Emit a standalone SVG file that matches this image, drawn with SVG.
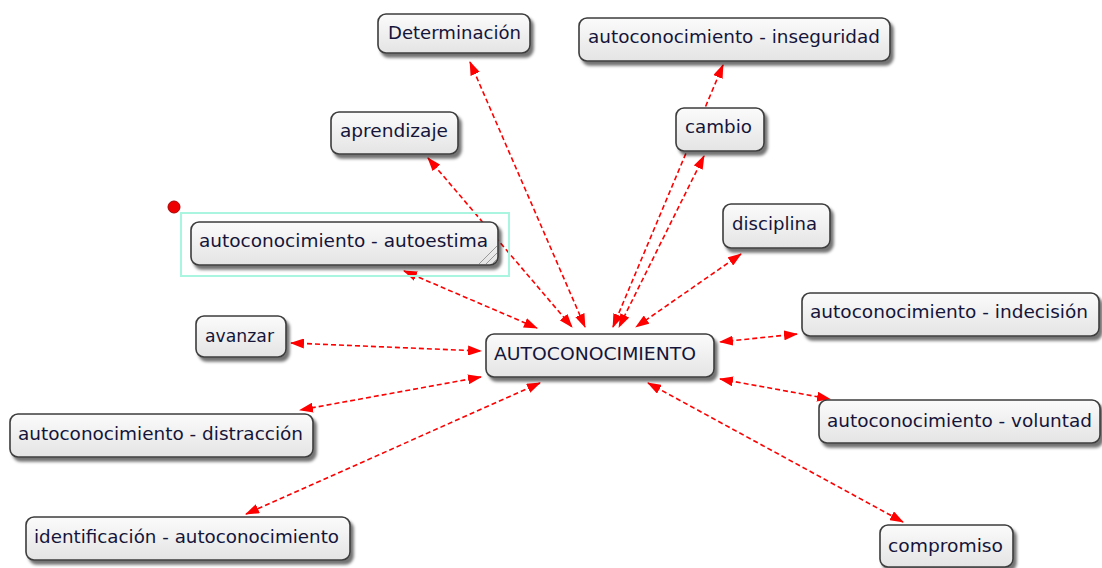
<svg xmlns="http://www.w3.org/2000/svg" width="1102" height="568" viewBox="0 0 1102 568">
<defs>
<linearGradient id="g" x1="0" y1="0" x2="0" y2="1">
<stop offset="0" stop-color="#fbfbfb"/>
<stop offset="1" stop-color="#e4e4e4"/>
</linearGradient>
<filter id="sh" x="-10%" y="-20%" width="130%" height="160%">
<feDropShadow dx="3" dy="4" stdDeviation="1.8" flood-color="#000" flood-opacity="0.55"/>
</filter>
<marker id="ah" viewBox="0 0 14 10" refX="13" refY="5" markerWidth="14" markerHeight="10" markerUnits="userSpaceOnUse" orient="auto-start-reverse">
<path d="M0,0 L14,5 L0,10 Z" fill="#ff0000"/>
</marker>
</defs>
<style>
.n rect.b{fill:url(#g);stroke:#3c3c3c;stroke-width:1.6;filter:url(#sh)}
.n text{font-family:"DejaVu Sans","Noto Sans",sans-serif;font-size:18px;fill:#15153a;text-anchor:middle}
#edges line{stroke:#ff0000;stroke-width:1.6;stroke-dasharray:5 3;fill:none;marker-start:url(#ah);marker-end:url(#ah)}
</style>
<rect width="1102" height="568" fill="#ffffff"/>
<g id="edges">
<line x1="470" y1="62" x2="585" y2="327"/>
<line x1="428" y1="158" x2="572" y2="327"/>
<line x1="723" y1="65" x2="613" y2="327"/>
<line x1="704" y1="156" x2="619" y2="327"/>
<line x1="741" y1="254" x2="636" y2="327"/>
<line x1="404" y1="271" x2="537" y2="328"/>
<line x1="797" y1="334" x2="720" y2="342"/>
<line x1="291" y1="343" x2="481" y2="351"/>
<line x1="481" y1="377" x2="300" y2="410"/>
<line x1="540" y1="383" x2="246" y2="514"/>
<line x1="720" y1="379" x2="830" y2="399"/>
<line x1="648" y1="383" x2="903" y2="522"/>
</g>
<rect x="181" y="213" width="328" height="63" fill="none" stroke="#aaf5e0" stroke-width="2"/>
<circle cx="174" cy="207" r="6" fill="#ee0000" stroke="#aa0000" stroke-width="1"/>
<g id="n-determinacion" class="n"><rect class="b" x="378" y="14" width="152" height="39" rx="8"/><text x="454.5" y="39" textLength="133" lengthAdjust="spacingAndGlyphs">Determinación</text></g>
<g id="n-inseguridad" class="n"><rect class="b" x="579" y="18" width="311" height="43" rx="8"/><text x="734" y="43" textLength="292" lengthAdjust="spacingAndGlyphs">autoconocimiento - inseguridad</text></g>
<g id="n-aprendizaje" class="n"><rect class="b" x="331" y="112" width="127" height="42" rx="8"/><text x="394" y="137" textLength="108" lengthAdjust="spacingAndGlyphs">aprendizaje</text></g>
<g id="n-cambio" class="n"><rect class="b" x="676" y="108" width="88" height="43" rx="8"/><text x="718.5" y="133" textLength="67" lengthAdjust="spacingAndGlyphs">cambio</text></g>
<g id="n-autoestima" class="n"><rect class="b" x="191" y="222" width="307" height="43" rx="8"/><text x="343.5" y="247" textLength="289" lengthAdjust="spacingAndGlyphs">autoconocimiento - autoestima</text>
<path d="M479,264 L497,246 M486,264 L497,253 M492,264 L497,259" stroke="#999" stroke-width="1" fill="none"/></g>
<g id="n-disciplina" class="n"><rect class="b" x="723" y="204" width="107" height="44" rx="8"/><text x="774.5" y="230" textLength="85" lengthAdjust="spacingAndGlyphs">disciplina</text></g>
<g id="n-indecision" class="n"><rect class="b" x="802" y="293" width="297" height="43" rx="8"/><text x="949" y="318" textLength="278" lengthAdjust="spacingAndGlyphs">autoconocimiento - indecisión</text></g>
<g id="n-avanzar" class="n"><rect class="b" x="196" y="316" width="90" height="41" rx="8"/><text x="239.5" y="342" textLength="69" lengthAdjust="spacingAndGlyphs">avanzar</text></g>
<g id="n-center" class="n"><rect class="b" x="486" y="334" width="228" height="43" rx="8"/><text x="595" y="360" textLength="202" lengthAdjust="spacingAndGlyphs">AUTOCONOCIMIENTO</text></g>
<g id="n-distraccion" class="n"><rect class="b" x="10" y="414" width="303" height="43" rx="8"/><text x="160.5" y="440" textLength="285" lengthAdjust="spacingAndGlyphs">autoconocimiento - distracción</text></g>
<g id="n-voluntad" class="n"><rect class="b" x="819" y="400" width="281" height="43" rx="8"/><text x="959.5" y="427" textLength="265" lengthAdjust="spacingAndGlyphs">autoconocimiento - voluntad</text></g>
<g id="n-identificacion" class="n"><rect class="b" x="26" y="517" width="324" height="43" rx="8"/><text x="186.5" y="543" textLength="305" lengthAdjust="spacingAndGlyphs">identificación - autoconocimiento</text></g>
<g id="n-compromiso" class="n"><rect class="b" x="880" y="525" width="133" height="42" rx="8"/><text x="945.5" y="552" textLength="115" lengthAdjust="spacingAndGlyphs">compromiso</text></g>
</svg>
